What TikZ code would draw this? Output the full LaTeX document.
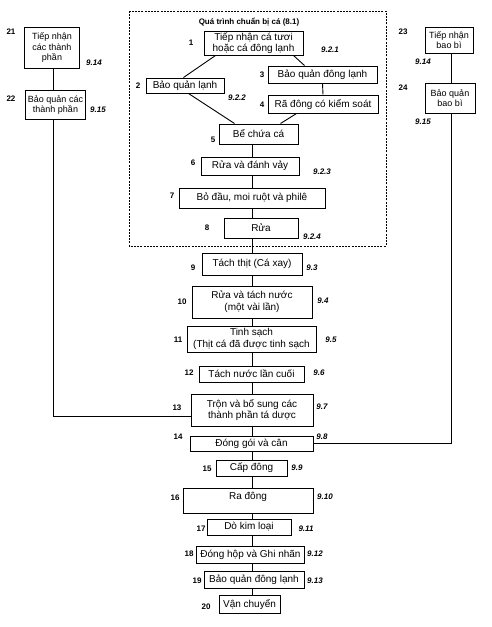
\documentclass[tikz,border=0pt]{standalone}
\usepackage{fontspec}
\setmainfont{Liberation Sans}
\usetikzlibrary{calc}
\begin{document}
\begin{tikzpicture}[x=1pt,y=-1pt,
  box/.style={draw, line width=1pt, inner sep=1pt, align=center, font=\fontsize{10}{11.5}\selectfont},
  sbox/.style={draw, line width=1pt, inner sep=1pt, align=center, font=\fontsize{9}{10.5}\selectfont},
  num/.style={inner sep=0pt, font=\bfseries\fontsize{8}{9}\selectfont},
  ref/.style={inner sep=0pt, font=\bfseries\itshape\fontsize{8}{9}\selectfont},
  conn/.style={line width=0.9pt},
  frame/.style={line width=0.8pt, dash pattern=on 2pt off 1.2pt}]
\fill[white] (0,0) rectangle (492,627);
\useasboundingbox (0,0) rectangle (492,627);
\coordinate (sp) at (252,0);
\coordinate (lx) at (53,0);
\coordinate (rx) at (451,0);
% frame
\draw[frame] (129,11) rectangle (386,246);
\node[inner sep=0pt, font=\bfseries\fontsize{8}{9}\selectfont] (title) at (249,22) {Quá trình chuẩn bị cá (8.1)};
% main nodes
\node[box, minimum width=99, minimum height=24] (n1) at (253.5,43) {Tiếp nhận cá tươi\\hoặc cá đông lạnh};
\node[box, minimum width=78, minimum height=15] (n2) at (185,85.5) {Bảo quản lạnh};
\node[box, minimum width=109, minimum height=17] (n3) at (322.5,74.5) {Bảo quản đông lạnh};
\node[box, minimum width=110, minimum height=18] (n4) at (323,104) {Rã đông có kiểm soát};
\node[box, minimum width=79, minimum height=20] (n5) at (258.5,134) {Bể chứa cá};
\node[box, minimum width=98, minimum height=18] (n6) at (250,166) {Rửa và đánh vảy};
\node[box, minimum width=146, minimum height=20] (n7) at (252,198) {Bỏ đầu, moi ruột và philê};
\node[box, minimum width=74, minimum height=20] (n8) at (261,228) {Rửa};
\node[box, minimum width=100, minimum height=22] (n9) at (252,264) {Tách thịt (Cá xay)};
\node[box, minimum width=120, minimum height=32] (n10) at (252,302) {Rửa và tách nước\\(một vài lần)};
\node[box, minimum width=129, minimum height=26] (n11) at (251.5,339) {Tinh sạch\\(Thịt cá đã được tinh sạch};
\node[box, minimum width=105, minimum height=16] (n12) at (251.5,374) {Tách nước lần cuối};
\node[box, minimum width=122, minimum height=32] (n13) at (252,410) {Trộn và bổ sung các\\thành phần tá dược};
\node[box, minimum width=123, minimum height=15] (n14) at (251.5,443.5) {Đóng gói và cân};
\node[box, minimum width=71, minimum height=16] (n15) at (251.5,468) {Cấp đông};
\node[box, minimum width=130, minimum height=25, text height=9pt, text depth=12pt, inner sep=2pt] (n16) at (248,500.5) {Ra đông};
\node[box, minimum width=84, minimum height=16] (n17) at (249,527) {Dò kim loại};
\node[box, minimum width=108, minimum height=17] (n18) at (250.5,554.5) {Đóng hộp và Ghi nhãn};
\node[box, minimum width=100, minimum height=17] (n19) at (254,579.5) {Bảo quản đông lạnh};
\node[box, minimum width=61, minimum height=18] (n20) at (249.5,604) {Vận chuyển};
% side nodes
\node[sbox, minimum width=55, minimum height=41] (n21) at (52,47.5) {Tiếp nhận\\các thành\\phần};
\node[sbox, minimum width=60, minimum height=29] (n22) at (55.5,105) {Bảo quản các\\thành phần};
\node[sbox, minimum width=48, minimum height=26] (n23) at (449,40) {Tiếp nhận\\bao bì};
\node[sbox, minimum width=50, minimum height=30] (n24) at (450,98) {Bảo quản\\bao bì};
% number labels
\node[num] (l1) at (191,43) {1};
\node[num] (l2) at (138,86) {2};
\node[num] (l3) at (262,75) {3};
\node[num] (l4) at (262,105) {4};
\node[num] (l5) at (213,140) {5};
\node[num] (l6) at (193,163) {6};
\node[num] (l7) at (172,196) {7};
\node[num] (l8) at (207,228) {8};
\node[num] (l9) at (193,268) {9};
\node[num] (l10) at (182,302) {10};
\node[num] (l11) at (178,340) {11};
\node[num] (l12) at (189,373) {12};
\node[num] (l13) at (177,408) {13};
\node[num] (l14) at (178,437) {14};
\node[num] (l15) at (207,469) {15};
\node[num] (l16) at (175,498) {16};
\node[num] (l17) at (201,529) {17};
\node[num] (l18) at (189,554) {18};
\node[num] (l19) at (197,581) {19};
\node[num] (l20) at (206,607) {20};
\node[num] (l21) at (11,32) {21};
\node[num] (l22) at (11,99) {22};
\node[num] (l23) at (403,32) {23};
\node[num] (l24) at (403,88) {24};
% reference labels
\node[ref] (r1) at (330,50) {9.2.1};
\node[ref] (r2) at (237,98) {9.2.2};
\node[ref] (r6) at (322,172) {9.2.3};
\node[ref] (r8) at (312,237) {9.2.4};
\node[ref] (r9) at (312,268) {9.3};
\node[ref] (r10) at (323,301) {9.4};
\node[ref] (r11) at (331,340) {9.5};
\node[ref] (r12) at (319,373) {9.6};
\node[ref] (r13) at (322,407) {9.7};
\node[ref] (r14) at (322,437) {9.8};
\node[ref] (r15) at (297,468) {9.9};
\node[ref] (r16) at (325,497) {9.10};
\node[ref] (r17) at (306,529) {9.11};
\node[ref] (r18) at (315,554) {9.12};
\node[ref] (r19) at (315,581) {9.13};
\node[ref] (r21) at (94,63) {9.14};
\node[ref] (r22) at (98,110) {9.15};
\node[ref] (r23) at (423,62) {9.14};
\node[ref] (r24) at (423,122) {9.15};
% connectors in the preparation frame
\draw[conn] ([xshift=12pt]n1.south west) -- ([xshift=38pt]n2.north west);
\draw[conn] ([xshift=-10pt]n1.south east) -- ([xshift=37pt]n3.north west);
\draw[conn] (n3.south) -- (n4.north);
\draw[conn] ([xshift=-36pt]n2.south east) -- ([xshift=16pt]n5.north west);
\draw[conn] ([xshift=29pt]n4.south west) -- ([xshift=-18pt]n5.north east);
% spine
\foreach \a/\b in {n5/n6,n6/n7,n7/n8,n8/n9,n9/n10,n10/n11,n11/n12,n12/n13,n13/n14,n14/n15,n15/n16,n16/n17,n17/n18,n18/n19,n19/n20}
  \draw[conn] (\a.south -| sp) -- (\b.north -| sp);
% side columns
\draw[conn] (n21.south -| lx) -- (n22.north -| lx);
\coordinate (j13) at (n13.west |- 0,416);
\draw[conn] (n22.south -| lx) |- (j13);
\draw[conn] (n23.south -| rx) -- (n24.north -| rx);
\draw[conn] (n24.south -| rx) |- (n14.east);
\end{tikzpicture}
\end{document}
